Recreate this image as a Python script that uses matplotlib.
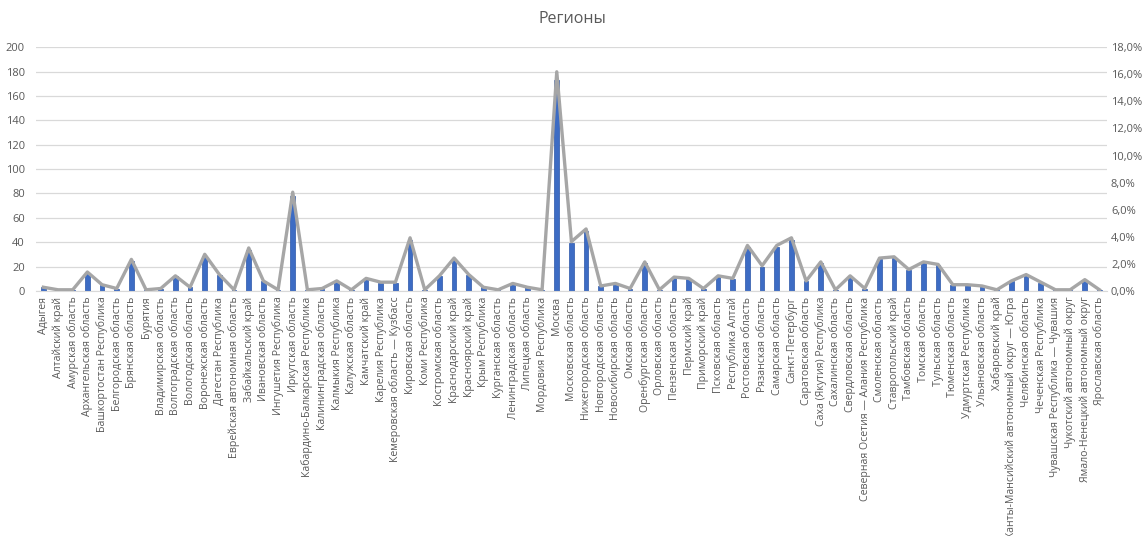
import matplotlib.pyplot as plt
from matplotlib.ticker import FuncFormatter
import numpy as np

plt.rcParams['font.family'] = ['Open Sans', 'DejaVu Sans']

regions = [
    'Адыгея', 'Алтайский край', 'Амурская область', 'Архангельская область',
    'Башкортостан Республика', 'Белгородская область', 'Брянская область', 'Бурятия',
    'Владимирская область', 'Волгоградская область', 'Вологодская область',
    'Воронежская область', 'Дагестан Республика', 'Еврейская автономная область',
    'Забайкальский край', 'Ивановская область', 'Ингушетия Республика',
    'Иркутская область', 'Кабардино-Балкарская Республика', 'Калининградская область',
    'Калмыкия Республика', 'Калужская область', 'Камчатский край', 'Карелия Республика',
    'Кемеровская область — Кузбасс', 'Кировская область', 'Коми Республика',
    'Костромская область', 'Краснодарский край', 'Красноярский край', 'Крым Республика',
    'Курганская область', 'Ленинградская область', 'Липецкая область',
    'Мордовия Республика', 'Москва', 'Московская область', 'Нижегородская область',
    'Новгородская область', 'Новосибирская область', 'Омская область',
    'Оренбургская область', 'Орловская область', 'Пензенская область', 'Пермский край',
    'Приморский край', 'Псковская область', 'Республика Алтай', 'Ростовская область',
    'Рязанская область', 'Самарская область', 'Санкт-Петербург', 'Саратовская область',
    'Саха (Якутия) Республика', 'Сахалинская область', 'Свердловская область',
    'Северная Осетия — Алания Республика', 'Смоленская область', 'Ставропольский край',
    'Тамбовская область', 'Томская область', 'Тульская область', 'Тюменская область',
    'Удмуртская Республика', 'Ульяновская область', 'Хабаровский край',
    'Ханты-Мансийский автономный округ — Югра', 'Челябинская область',
    'Чеченская Республика', 'Чувашская Республика — Чувашия', 'Чукотский автономный округ',
    'Ямало-Ненецкий автономный округ', 'Ярославская область',
]

counts = [
    3, 1, 1, 15, 5, 2, 25, 1, 2, 12,
    3, 29, 13, 1, 34, 8, 1, 78, 1, 2,
    8, 1, 10, 7, 7, 42, 1, 12, 26, 13,
    3, 1, 6, 3, 1, 173, 39, 49, 4, 6,
    2, 23, 1, 11, 10, 2, 12, 10, 36, 20,
    36, 42, 8, 23, 1, 12, 2, 26, 27, 17,
    23, 21, 5, 5, 4, 1, 8, 13, 7, 1,
    1, 9, 1,
]

# доля региона от общего числа
share = np.array(counts) / sum(counts)
x = np.arange(len(regions))

fig = plt.figure(figsize=(11.44, 5.36), dpi=100)
ax = fig.add_axes([0.0315, 0.457, 0.936, 0.455])
ax2 = ax.twinx()

ax.bar(x, counts, width=0.32, color='#3d6cc4', edgecolor='#2b55a8', linewidth=0.5, zorder=2)
ax2.plot(x, share, color='#a6a6a6', linewidth=2.4, solid_joinstyle='round')

ax.set_xlim(-0.5, len(regions) - 0.5)
ax.set_ylim(0, 200)
ax.set_yticks(range(0, 201, 20))
ax2.set_ylim(0, 0.18)
ax2.set_yticks(np.arange(0, 0.181, 0.02))
ax2.yaxis.set_major_formatter(FuncFormatter(lambda v, p: f'{v * 100:.1f}%'.replace('.', ',')))

ax.grid(axis='y', color='#d9d9d9', linewidth=0.9, zorder=0)
ax.set_axisbelow(True)
for a in (ax, ax2):
    for s in a.spines.values():
        s.set_visible(False)
    a.tick_params(length=0, colors='#595959', labelsize=8)
ax.spines['bottom'].set_visible(True)
ax.spines['bottom'].set_color('#d9d9d9')

ax.set_xticks(x)
ax.set_xticklabels(regions, rotation=90, fontsize=7.6, color='#595959')
ax.tick_params(axis='x', pad=4)
ax.tick_params(axis='y', pad=8)
ax2.tick_params(axis='y', pad=3)

fig.suptitle('Регионы', y=0.98, fontsize=11.5, color='#595959')

fig.savefig('out.png', dpi=100)
